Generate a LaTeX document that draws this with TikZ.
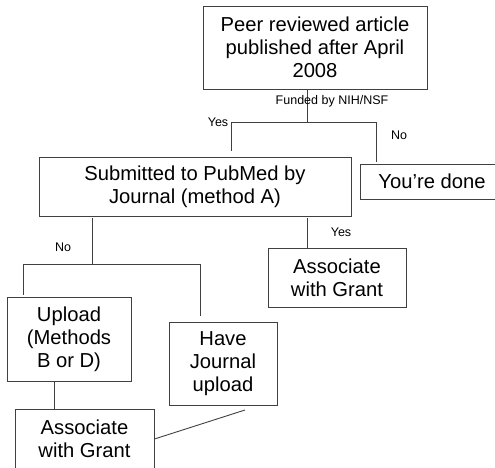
\documentclass[tikz,border=0pt]{standalone}
\usepackage{fontspec}
\setmainfont{Liberation Sans}
\usepackage{tikz}
\usetikzlibrary{positioning}

\begin{document}
\begin{tikzpicture}[
x=1pt, y=-1pt,
decision/.style={draw=black!75, line width=0.9pt, inner sep=0pt, align=center,
  font=\fontsize{20.2}{23}\selectfont},
link/.style={draw=black!75, line width=0.9pt},
answer/.style={inner sep=0pt, font=\fontsize{12.5}{14}\selectfont}
]
    % Page frame
    \useasboundingbox (0,0) rectangle (495,468);
    \clip (0,0) rectangle (495,468);

    % Boxes
    \node[decision, minimum width=224pt, minimum height=83pt] (article) at (315,47.5)
        {Peer reviewed article\\published after April\\2008};
    \node[decision, minimum width=312pt, minimum height=59pt] (pubmed) at (195,186.5)
        {Submitted to PubMed by\\Journal (method A)};
    \node[decision, minimum width=144pt, minimum height=35pt] (done) at (432,181.5)
        {You’re done};
    \node[decision, minimum width=138pt, minimum height=59pt] (grantA) at (337,277.5)
        {Associate\\with Grant};
    \node[decision, minimum width=124pt, minimum height=84pt] (upload) at (69,339)
        {Upload\\(Methods\\B or D)};
    \node[decision, minimum width=108pt, minimum height=83pt] (journal) at (223,363.5)
        {Have\\Journal\\upload};
    \node[decision, minimum width=139pt, minimum height=60pt] (grantB) at (84.5,439)
        {Associate\\with Grant};

    \draw
    (307,122) coordinate (F)
    (231,122) coordinate (Y)
    (376,122) coordinate (N)
    (92,264) coordinate (L)
    (307,248) coordinate (R)
    (23,264) coordinate (U)
    (200,264) coordinate (H)
    (54,409) coordinate (G)
    (245,410) coordinate (J);

    % Connectors
    \draw[link] (article.south -| F) -- (F);
    \draw[link] (Y) -- (N);
    \draw[link, shorten >=6pt] (Y) -- (Y |- pubmed.north);
    \draw[link, shorten >=1.5pt] (N) -- (N |- done.north);
    \draw[link, shorten <=2pt] (pubmed.south -| L) -- (L);
    \draw[link, shorten <=2pt] (pubmed.south -| R) -- (R);
    \draw[link] (U) -- (H);
    \draw[link, shorten >=2pt] (U) -- (U |- upload.north);
    \draw[link, shorten >=6pt] (H) -- (H |- journal.north);
    \draw[link] (upload.south -| G) -- (G);
    \draw[link] (grantB.east) -- (J);

    % Answers
    \node[answer] (funded) at (332,101.5) {Funded by NIH/NSF};
    \node[answer] (yes1) at (218,122) {Yes};
    \node[answer] (no1) at (399,135) {No};
    \node[answer] (yes2) at (341,232) {Yes};
    \node[answer] (no2) at (63,247) {No};
\end{tikzpicture}
\end{document}
